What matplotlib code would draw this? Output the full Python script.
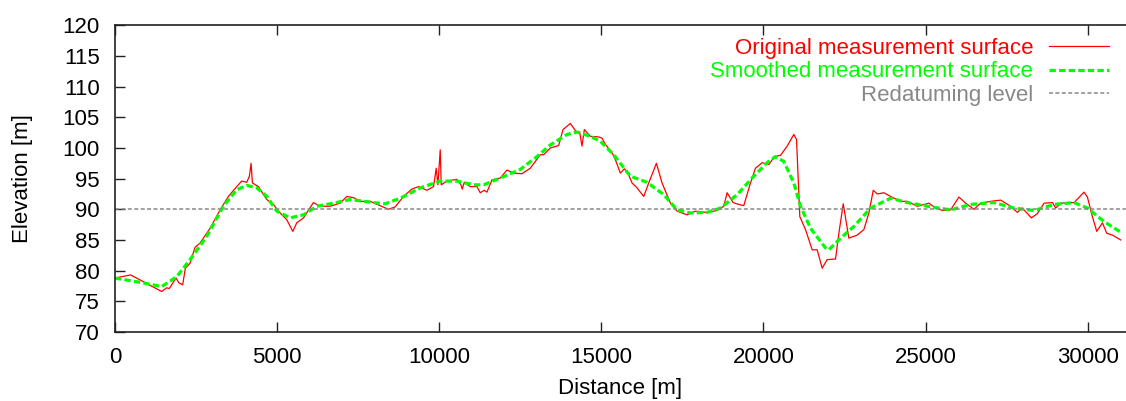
import numpy as np
import matplotlib.pyplot as plt

plt.rcParams["font.family"] = ["Liberation Sans", "DejaVu Sans"]
plt.rcParams["font.size"] = 16

# measured surface profile (distance in m, elevation in m)
dist_orig = [0, 485, 1440, 1595, 1677, 1883, 1975, 2088, 2171, 2315, 2469, 2623,
             2932, 3241, 3498, 3755, 3909, 4064, 4146, 4198, 4239, 4424, 4681,
             4887, 5040, 5299, 5484, 5607, 5813, 6121, 6327, 6636, 6944, 7150,
             7356, 7562, 7870, 8179, 8436, 8642, 8899, 9156, 9362, 9620, 9825,
             9907, 9960, 10031, 10062, 10237, 10545, 10669, 10710, 10772, 10957,
             11163, 11265, 11389, 11472, 11626, 11883, 12089, 12295, 12552,
             12809, 13117, 13220, 13426, 13683, 13818, 14043, 14218, 14330,
             14403, 14475, 14660, 14918, 15021, 15123, 15330, 15432, 15586,
             15710, 15812, 15946, 16100, 16307, 16461, 16698, 16872, 17130,
             17336, 17645, 17901, 18261, 18570, 18775, 18878, 19064, 19238,
             19392, 19599, 19753, 19959, 20165, 20340, 20525, 20730, 20936,
             21019, 21121, 21296, 21502, 21656, 21810, 21965, 22222, 22325,
             22460, 22633, 22890, 23096, 23250, 23385, 23509, 23713, 23920,
             24228, 24434, 24743, 25102, 25257, 25515, 25772, 26028, 26235,
             26491, 26698, 27006, 27315, 27623, 27829, 27983, 28262, 28447,
             28653, 28911, 29012, 29167, 29578, 29887, 29990, 30144, 30278,
             30453, 30586, 30761, 31018]
elev_orig = [78.8, 79.3, 76.6, 77.2, 77.1, 78.8, 78.0, 77.7, 80.4, 81.2, 83.8, 84.5,
             86.9, 89.9, 92.1, 93.7, 94.6, 94.4, 95.4, 97.5, 94.3, 93.7, 91.6,
             90.8, 89.7, 88.3, 86.4, 87.8, 88.6, 91.1, 90.5, 90.5, 91.0, 92.1,
             91.9, 91.3, 91.3, 90.6, 90.0, 90.4, 92.1, 93.3, 93.7, 93.1, 93.7,
             96.7, 94.0, 99.7, 94.0, 94.6, 94.9, 94.0, 93.3, 94.4, 93.7,
             93.7, 92.7, 93.1, 92.8, 94.8, 95.1, 96.4, 95.9, 95.8,
             96.7, 98.9, 98.9, 100.0, 100.4, 103.0, 104.0, 102.7, 102.6,
             100.3, 103.0, 101.9, 101.8, 101.6, 100.6, 99.2, 98.1, 95.9,
             96.6, 96.0, 94.3, 93.5, 92.1, 94.3, 97.5, 94.3, 91.0,
             89.7, 89.1, 89.7, 89.5, 89.8, 90.5, 92.7, 91.1, 90.8,
             90.6, 94.3, 96.7, 97.6, 97.3, 98.6, 98.8, 100.3, 102.2,
             101.4, 88.8, 86.7, 83.4, 83.4, 80.4, 81.8, 81.9, 86.1,
             90.9, 85.3, 85.8, 86.7, 89.4, 93.1, 92.5, 92.7, 92.1,
             91.3, 91.3, 90.5, 91.0, 90.4, 89.8, 89.9, 92.0, 91.0,
             90.0, 91.0, 91.3, 91.5, 90.5, 89.5, 90.2, 88.6, 89.3,
             91.0, 91.1, 90.2, 91.0, 91.1, 92.8, 92.0, 88.8, 86.4,
             87.8, 86.1, 85.8, 85.0]

# smoothed surface
dist_smooth = [0, 875, 1440, 1903, 2315, 2830, 3343, 3755, 4064, 4373, 4681, 4990,
               5401, 5813, 6225, 6738, 7253, 7973, 8333, 8796, 9414, 10031, 10545,
               11060, 11368, 11883, 12500, 13015, 13426, 13940, 14249, 14660,
               14969, 15380, 15895, 16410, 16923, 17336, 17747, 18261, 18673,
               19188, 19702, 20113, 20370, 20627, 20936, 21142, 21451, 21914,
               22016, 22377, 22788, 23302, 23920, 24434, 25051, 25772, 26389,
               27108, 27726, 28343, 28960, 29578, 29990, 30504, 31070]
elev_smooth = [78.8, 78.0, 77.4, 79.0, 81.8, 85.6, 90.5, 93.2, 93.9, 93.5, 92.1, 89.7,
               88.6, 89.1, 90.5, 91.0, 91.6, 91.1, 90.9, 91.8, 93.5, 94.6, 94.6,
               94.0, 94.0, 95.1, 96.5, 98.6, 100.5, 102.2, 102.6, 101.9,
               101.1, 98.9, 95.4, 94.4, 92.4, 89.9, 89.4, 89.5, 90.2,
               92.4, 95.4, 97.6, 98.6, 97.8, 94.3, 90.5, 86.9, 83.7,
               83.4, 85.3, 87.2, 90.2, 91.8, 91.1, 90.5, 89.9, 90.8,
               91.1, 90.2, 89.8, 90.8, 91.1, 90.2, 88.0, 86.1]

redatum_level = 90

fig = plt.figure(figsize=(11.26, 4.01), dpi=100)
ax = fig.add_axes([0.1021, 0.1721, 0.8979, 0.7648])

ax.plot(dist_orig, elev_orig, color="#ff0000", lw=0.9,
        label="Original measurement surface")
ax.plot(dist_smooth, elev_smooth, color="#00ff00", lw=2.3, dashes=(2.0, 1.0),
        label="Smoothed measurement surface")
ax.axhline(redatum_level, color="#888888", lw=1.1, dashes=(2.6, 1.6),
           label="Redatuming level")

ax.set_xlim(0, 31180)
ax.set_ylim(70, 120)
ax.set_xticks(np.arange(0, 30001, 5000))
ax.set_yticks(np.arange(70, 121, 5))
ax.tick_params(direction="in", length=7, width=1, top=True, right=False, pad=11,
               color="#222222")
ax.spines["right"].set_visible(False)
for s in ax.spines.values():
    s.set_linewidth(1.2)
    s.set_color("#222222")

ax.set_xlabel("Distance [m]", labelpad=7)
ax.set_ylabel("Elevation [m]", labelpad=21)

leg = ax.legend(loc="upper right", bbox_to_anchor=(1 - 8 / 1011, 1 - 4 / 306),
                markerfirst=False, frameon=False,
                handlelength=2.7, handletextpad=0.72, labelspacing=0.1,
                borderpad=0.2, borderaxespad=0.2, fontsize=16)
for txt, c in zip(leg.get_texts(), ["#ff0000", "#00ff00", "#888888"]):
    txt.set_color(c)

fig.savefig("out.png", dpi=100)
